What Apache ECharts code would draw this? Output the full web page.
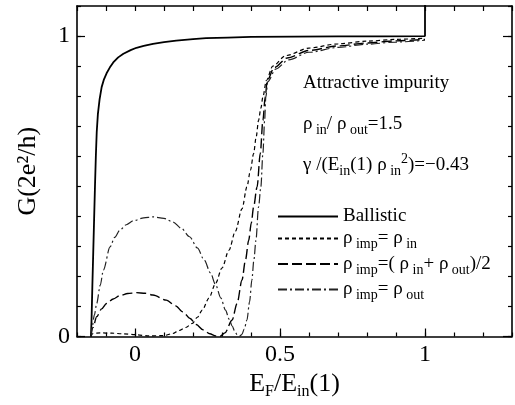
<!DOCTYPE html>
<html>
<head>
<meta charset="utf-8">
<script src="https://cdn.jsdelivr.net/npm/echarts@6/dist/echarts.min.js"></script>
<style>html,body{margin:0;padding:0;background:#fff}#c{width:515px;height:405px}</style>
</head>
<body>
<div id="c"></div>
<script>
// ---- data ----
const xTickLabels = ['0', '0.5', '1'];
const yTickLabels = ['0', '1'];
const seriesNames = ['Ballistic', 'impIn', 'impMid', 'impOut'];

const ballistic = [[-0.152,0],[-0.150,0.05],[-0.147,0.17],[-0.144,0.28],[-0.141,0.39],[-0.138,0.50],[-0.135,0.60],[-0.132,0.68],[-0.128,0.74],[-0.122,0.79],[-0.115,0.83],[-0.107,0.856],[-0.098,0.876],[-0.087,0.895],[-0.075,0.912],[-0.058,0.929],[-0.040,0.941],[-0.015,0.953],[0.005,0.961],[0.030,0.967],[0.062,0.974],[0.100,0.980],[0.142,0.985],[0.200,0.990],[0.245,0.993],[0.320,0.995],[0.400,0.997],[0.550,0.998],[0.700,0.999],[0.850,0.999],[1.0,1.0],[1.0,1.2]];

const impIn = [[-0.152,0],[-0.145,0.010],[-0.120,0.012],[-0.080,0.011],[-0.040,0.009],[0.0,0.006],[0.050,0.002],[0.100,0.003],[0.130,0.010],[0.152,0.020],[0.175,0.030],[0.198,0.044],[0.215,0.064],[0.232,0.088],[0.255,0.128],[0.278,0.177],[0.300,0.228],[0.324,0.287],[0.346,0.350],[0.369,0.425],[0.386,0.498],[0.398,0.553],[0.409,0.609],[0.418,0.665],[0.426,0.719],[0.434,0.760],[0.441,0.797],[0.453,0.852],[0.475,0.900],[0.520,0.935],[0.600,0.960],[0.700,0.974],[0.800,0.983],[0.900,0.989],[1.0,0.993]];

const impMid = [[-0.152,0],[-0.145,0.030],[-0.132,0.066],[-0.115,0.092],[-0.098,0.110],[-0.075,0.125],[-0.052,0.136],[-0.025,0.143],[0.005,0.146],[0.035,0.144],[0.062,0.138],[0.108,0.121],[0.140,0.102],[0.165,0.082],[0.190,0.060],[0.211,0.040],[0.235,0.022],[0.258,0.009],[0.278,0.002],[0.292,0.0],[0.310,0.012],[0.335,0.055],[0.352,0.110],[0.369,0.188],[0.381,0.255],[0.392,0.320],[0.401,0.378],[0.409,0.431],[0.421,0.498],[0.432,0.609],[0.441,0.719],[0.449,0.797],[0.456,0.852],[0.480,0.895],[0.525,0.927],[0.600,0.952],[0.700,0.967],[0.800,0.977],[0.900,0.984],[1.0,0.989]];

const impOut = [[-0.152,0],[-0.148,0.030],[-0.140,0.072],[-0.132,0.110],[-0.120,0.170],[-0.109,0.221],[-0.086,0.298],[-0.070,0.330],[-0.052,0.354],[-0.030,0.372],[-0.006,0.385],[0.030,0.395],[0.062,0.398],[0.100,0.393],[0.131,0.381],[0.160,0.360],[0.188,0.332],[0.215,0.295],[0.239,0.254],[0.260,0.212],[0.278,0.172],[0.296,0.128],[0.312,0.088],[0.325,0.057],[0.335,0.035],[0.345,0.015],[0.353,0.005],[0.360,0.001],[0.368,0.006],[0.377,0.025],[0.386,0.055],[0.395,0.115],[0.403,0.188],[0.410,0.255],[0.417,0.320],[0.426,0.431],[0.434,0.498],[0.441,0.609],[0.447,0.719],[0.451,0.797],[0.458,0.848],[0.485,0.890],[0.530,0.921],[0.600,0.946],[0.700,0.962],[0.800,0.973],[0.900,0.980],[1.0,0.986]];

// ---- rendering ----
const SERIF = '"Liberation Serif","Times New Roman",serif';
const chart = echarts.init(document.getElementById('c'), null, {renderer: 'canvas'});

function richSet(size, sub, line) {
  return {
    m: {fontFamily: SERIF, fontSize: size, lineHeight: line, color: '#000', verticalAlign: 'middle'},
    s: {fontFamily: SERIF, fontSize: sub, lineHeight: sub, color: '#000', verticalAlign: 'bottom'},
    p: {fontFamily: SERIF, fontSize: sub, lineHeight: sub, color: '#000', verticalAlign: 'top'}
  };
}
const near = (v, t) => Math.abs(v - t) < 1e-6;
const xLabelFmt = v => { const i = [0, 0.5, 1].findIndex(t => near(v, t)); return i >= 0 ? xTickLabels[i] : ''; };
const yLabelFmt = v => { const i = [0, 1].findIndex(t => near(v, t)); return i >= 0 ? yTickLabels[i] : ''; };

const axisLineStyle = {color: '#000', width: 1.6};
const tickStyle = {color: '#000', width: 1.2};
const xBase = {type: 'value', min: -0.2, max: 1.3, interval: 0.1, splitLine: {show: false}, gridIndex: 0};
const yBase = {type: 'value', min: 0, max: 1.1, interval: 0.1, splitLine: {show: false}, gridIndex: 0};

const legendText = {
  Ballistic: '{m|Ballistic}',
  impIn: '{m|ρ}{s| imp}{m|= ρ}{s| in}',
  impMid: '{m|ρ}{s| imp}{m|=( ρ}{s| in}{m|+ ρ}{s| out}{m|)/2}',
  impOut: '{m|ρ}{s| imp}{m|= ρ}{s| out}'
};

const option = {
  animation: false,
  backgroundColor: '#fff',
  grid: {left: 77, right: 1, top: 6, bottom: 68.5, containLabel: false},
  xAxis: [
    Object.assign({}, xBase, {
      position: 'bottom',
      axisLine: {onZero: false, lineStyle: axisLineStyle},
      axisTick: {inside: true, length: 4, lineStyle: tickStyle},
      axisLabel: {formatter: xLabelFmt, fontFamily: SERIF, fontSize: 24, color: '#000', margin: 6},
      name: '{m|E}{s|F}{m|/E}{s|in}{m|(1)}',
      nameLocation: 'middle', nameGap: 30,
      nameTextStyle: {fontFamily: SERIF, fontSize: 26, color: '#000', rich: richSet(26, 16, 30)}
    }),
    Object.assign({}, xBase, {
      position: 'bottom',
      axisLine: {show: false, onZero: false},
      axisTick: {inside: true, length: 8, lineStyle: tickStyle, customValues: [0, 0.5, 1]},
      axisLabel: {show: false}
    }),
    Object.assign({}, xBase, {
      position: 'top',
      axisLine: {onZero: false, lineStyle: axisLineStyle},
      axisTick: {inside: true, length: 5, lineStyle: tickStyle},
      axisLabel: {show: false}
    })
  ],
  yAxis: [
    Object.assign({}, yBase, {
      position: 'left',
      axisLine: {onZero: false, lineStyle: axisLineStyle},
      axisTick: {inside: true, length: 4, lineStyle: tickStyle},
      axisLabel: {formatter: yLabelFmt, fontFamily: SERIF, fontSize: 24, color: '#000', margin: 7},
      name: 'G(2e²/h)',
      nameLocation: 'middle', nameGap: 36, nameRotate: 90,
      nameTextStyle: {fontFamily: SERIF, fontSize: 26, color: '#000'}
    }),
    Object.assign({}, yBase, {
      position: 'left',
      axisLine: {show: false, onZero: false},
      axisTick: {inside: true, length: 8, lineStyle: tickStyle, customValues: [0, 1]},
      axisLabel: {show: false}
    }),
    Object.assign({}, yBase, {
      position: 'right',
      axisLine: {onZero: false, lineStyle: axisLineStyle},
      axisTick: {inside: true, length: 4, lineStyle: tickStyle},
      axisLabel: {show: false}
    }),
    Object.assign({}, yBase, {
      position: 'right',
      axisLine: {show: false, onZero: false},
      axisTick: {inside: true, length: 9, lineStyle: tickStyle, customValues: [0, 1]},
      axisLabel: {show: false}
    })
  ],
  legend: {
    orient: 'vertical', left: 277, top: 207, padding: 0,
    itemWidth: 60, itemHeight: 14, itemGap: 3,
    data: seriesNames,
    formatter: n => legendText[n],
    itemStyle: {opacity: 0, color: 'rgba(0,0,0,0)', borderWidth: 0},
    textStyle: {fontFamily: SERIF, fontSize: 19, color: '#000', rich: richSet(19, 14, 26)},
    selectedMode: false
  },
  graphic: [
    {type: 'text', x: 303, y: 83, style: {text: 'Attractive impurity', font: '19px "Liberation Serif"', fill: '#000', verticalAlign: 'middle'}},
    {type: 'text', x: 303, y: 124, style: {text: '{m|ρ}{s| in}{m|/ ρ}{s| out}{m|=1.5}', rich: richSet(19, 14, 26), fill: '#000', verticalAlign: 'middle'}},
    {type: 'text', x: 303, y: 165, style: {text: '{m|γ /(E}{s|in}{m|(1) ρ}{s| in}{p|2}{m|)=−0.43}', rich: richSet(19, 14, 26), fill: '#000', verticalAlign: 'middle'}}
  ],
  series: [
    {name: 'Ballistic', type: 'line', data: ballistic, showSymbol: false, symbol: 'none', smooth: false, clip: true,
     itemStyle: {color: '#000'}, lineStyle: {color: '#000', width: 1.8, type: 'solid'}},
    {name: 'impIn', type: 'line', data: impIn, symbol: 'none', smooth: 0.3, smoothMonotone: 'x', clip: true,
     itemStyle: {color: '#000'}, lineStyle: {color: '#000', width: 1.2, type: [4, 3]}},
    {name: 'impMid', type: 'line', data: impMid, symbol: 'none', smooth: 0.3, smoothMonotone: 'x', clip: true,
     itemStyle: {color: '#000'}, lineStyle: {color: '#000', width: 1.4, type: [10, 4]}},
    {name: 'impOut', type: 'line', data: impOut, symbol: 'none', smooth: 0.3, smoothMonotone: 'x', clip: true,
     itemStyle: {color: '#222'}, lineStyle: {color: '#222', width: 1.2, type: [9, 3, 2, 3]}}
  ]
};
chart.setOption(option);
</script>
</body>
</html>
